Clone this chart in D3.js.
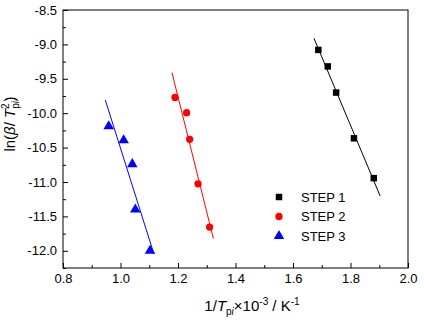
<!DOCTYPE html>
<html><head><meta charset="utf-8">
<script src="https://cdn.jsdelivr.net/npm/d3@7"></script>
<style>
body{margin:0;background:#fff;}
text{font-family:"Liberation Sans",Arial,sans-serif;fill:#000;}
</style></head>
<body>
<script>
// ---- data ----
const seriesNames = ["STEP 1", "STEP 2", "STEP 3"];
const step1X = [1.688, 1.721, 1.750, 1.812, 1.881];
const step1Y = [-9.08, -9.32, -9.70, -10.365, -10.944];
const step2X = [1.1896, 1.230, 1.2406, 1.2696, 1.310];
const step2Y = [-9.77, -9.993, -10.38, -11.026, -11.655];
const step3X = [0.959, 1.011, 1.041, 1.0515, 1.1026];
const step3Y = [-10.19, -10.394, -10.74, -11.40, -12.0];
// x-extent of each fitted line
const fit1Range = [1.673, 1.903];
const fit2Range = [1.179, 1.323];
const fit3Range = [0.947, 1.1165];
const xTicks = [0.8, 1.0, 1.2, 1.4, 1.6, 1.8, 2.0];
const yTicks = [-12.0, -11.5, -11.0, -10.5, -10.0, -9.5, -9.0, -8.5];

const W = 424, H = 322;
const m = {l: 63, t: 10, r: 16, b: 54};
const pw = W - m.l - m.r, ph = H - m.t - m.b;

const svg = d3.select("body").append("svg").attr("width", W).attr("height", H);
const g = svg.append("g").attr("transform", `translate(${m.l},${m.t})`);

const x = d3.scaleLinear().domain([0.8, 2.0]).range([0, pw]);
const y = d3.scaleLinear().domain([-12.25, -8.5]).range([ph, 0]);

const xMinor = d3.range(0.9, 2.0, 0.2);
const yMinor = d3.range(-12.25, -8.5, 0.5);

// axes
const xa = g.append("g").attr("transform", `translate(0,${ph})`)
  .call(d3.axisBottom(x).tickValues(xTicks).tickSize(-5).tickPadding(6).tickFormat(d => d.toFixed(1)));
const xm = g.append("g").attr("transform", `translate(0,${ph})`)
  .call(d3.axisBottom(x).tickValues(xMinor).tickSize(-3).tickFormat(""));
const ya = g.append("g")
  .call(d3.axisLeft(y).tickValues(yTicks).tickSize(-5).tickPadding(6).tickFormat(d => d.toFixed(1)));
const ym = g.append("g")
  .call(d3.axisLeft(y).tickValues(yMinor).tickSize(-3).tickFormat(""));
[xa, xm, ya, ym].forEach(a => {
  a.select(".domain").remove();
  a.selectAll("line").attr("stroke", "#000").attr("stroke-width", 1);
  a.selectAll("text").attr("font-size", 13).attr("fill", "#000")
    .style("font-family", "Liberation Sans, Arial, sans-serif");
});

g.append("rect").attr("x", 0).attr("y", 0).attr("width", pw).attr("height", ph)
  .attr("fill", "none").attr("stroke", "#000").attr("stroke-width", 1);

// regression
function fit(xs, ys) {
  const mx = d3.mean(xs), my = d3.mean(ys);
  let sxy = 0, sxx = 0;
  xs.forEach((v, i) => { sxy += (v - mx) * (ys[i] - my); sxx += (v - mx) * (v - mx); });
  const b = sxy / sxx; return v => my + b * (v - mx);
}

const series = [
  {xs: step1X, ys: step1Y, range: fit1Range, color: "#000000", shape: d3.symbolSquare, size: 42},
  {xs: step2X, ys: step2Y, range: fit2Range, color: "#ff0000", shape: d3.symbolCircle, size: 42},
  {xs: step3X, ys: step3Y, range: fit3Range, color: "#0000ff", shape: d3.symbolTriangle, size: 48},
];

const line = d3.line().x(d => x(d[0])).y(d => y(d[1]));
series.forEach(s => {
  const f = fit(s.xs, s.ys);
  g.append("path").datum(s.range.map(v => [v, f(v)]))
    .attr("d", line).attr("fill", "none").attr("stroke", s.color).attr("stroke-width", 1);
  g.selectAll(null).data(s.xs.map((v, i) => [v, s.ys[i]])).enter().append("path")
    .attr("d", d3.symbol().type(s.shape).size(s.size))
    .attr("transform", d => `translate(${x(d[0])},${y(d[1])})`)
    .attr("fill", s.color);
});

// legend
const leg = svg.append("g").attr("transform", "translate(279,197)");
series.forEach((s, i) => {
  const row = leg.append("g").attr("transform", `translate(0,${i * 19.5})`);
  row.append("path").attr("d", d3.symbol().type(s.shape).size(s.size)).attr("fill", s.color);
  row.append("text").attr("x", 22).attr("y", 0).attr("dy", "0.36em")
    .attr("font-size", 13).text(seriesNames[i]);
});

// x title
const xt = svg.append("text").attr("x", 252).attr("y", 311).attr("text-anchor", "middle").attr("font-size", 15);
xt.append("tspan").text("1/");
xt.append("tspan").attr("font-style", "italic").text("T");
xt.append("tspan").attr("font-size", 10).attr("dy", 4).text("p");
xt.append("tspan").attr("font-size", 10).attr("font-style", "italic").text("i");
xt.append("tspan").attr("dy", -4).text("×10");
xt.append("tspan").attr("font-size", 10).attr("dy", -6).text("-3");
xt.append("tspan").attr("dy", 6).text(" / K");
xt.append("tspan").attr("font-size", 10).attr("dy", -6).text("-1");

// y title
const yt = svg.append("text").attr("transform", "translate(15,124) rotate(-90)")
  .attr("text-anchor", "middle").attr("font-size", 15);
yt.append("tspan").text("ln(");
yt.append("tspan").attr("font-style", "italic").text("β");
yt.append("tspan").text("/ ");
yt.append("tspan").attr("font-style", "italic").text("T");
yt.append("tspan").attr("font-size", 10).attr("dy", 4).text("p");
yt.append("tspan").attr("font-size", 10).attr("font-style", "italic").text("i");
yt.append("tspan").attr("font-size", 10).attr("dx", -8).attr("dy", -10).text("2");
yt.append("tspan").attr("dy", 6).attr("dx", 2).text(")");
</script>
</body></html>
